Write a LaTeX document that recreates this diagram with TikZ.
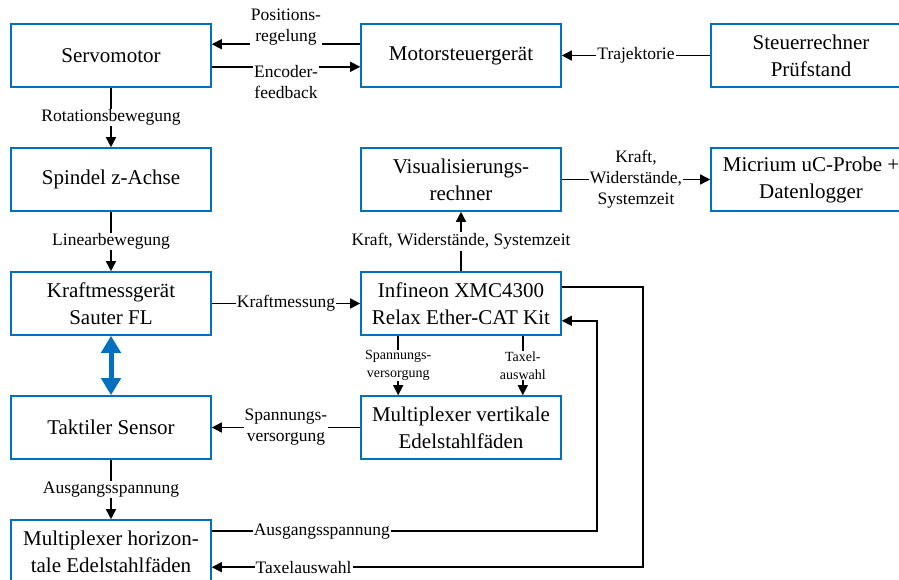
\documentclass[tikz,border=0pt]{standalone}
\usepackage{fontspec}
\setmainfont{Liberation Serif}
\usetikzlibrary{arrows.meta,positioning}
\definecolor{boxblue}{RGB}{0,112,192}
\begin{document}
\begin{tikzpicture}[x=1pt,y=-1pt,node distance=59.4pt and 148.4pt,box/.style={draw=boxblue,line width=1.6pt,fill=white,align=center,minimum width=200pt,minimum height=63pt,inner sep=2pt,font=\fontsize{21}{27}\selectfont},lbl/.style={fill=white,inner sep=1pt,align=center,font=\fontsize{17.5}{21}\selectfont},slbl/.style={lbl,font=\fontsize{14}{17.5}\selectfont},arr/.style={-{Triangle[length=10pt,width=10pt]},line width=1.5pt},bigarr/.style={{Triangle[length=17pt,width=19pt]}-{Triangle[length=17pt,width=19pt]},line width=5pt,draw=boxblue}]
\useasboundingbox (0,0) rectangle (899,579);
\clip (0,0) rectangle (899,579);
\node[box,anchor=north west] (servo) at (10.2,23.2) {Servomotor};
\node[box,right=of servo] (motor) {Motorsteuergerät};
\node[box,right=of motor] (steuer) {Steuerrechner\\Prüfstand};
\node[box,below=of servo] (spindel) {Spindel z-Achse};
\node[box,below=of motor] (vis) {Visualisierungs-\\rechner};
\node[box,right=of vis] (mic) {Micrium uC-Probe +\\Datenlogger};
\node[box,below=of spindel] (kraft) {Kraftmessgerät\\Sauter FL};
\node[box,below=of vis] (xmc) {Infineon XMC4300\\Relax Ether-CAT Kit};
\node[box,below=of kraft] (sensor) {Taktiler Sensor};
\node[box,below=of xmc] (muxv) {Multiplexer vertikale\\Edelstahlfäden};
\node[box,below=of sensor] (muxh) {Multiplexer horizon-\\tale Edelstahlfäden};
\draw[arr]([yshift=-21pt]motor.north west)--node[lbl,above=-3pt]{Positions-\\regelung}([yshift=-21pt]servo.north east);
\draw[arr]([yshift=21pt]servo.south east)--node[lbl,below=-3pt]{Encoder-\\feedback}([yshift=21pt]motor.south west);
\draw[arr](steuer)--node[lbl]{Trajektorie}(motor);
\draw[arr](servo)--node[lbl]{Rotationsbewegung}(spindel);\draw[arr](spindel)--node[lbl]{Linearbewegung}(kraft);
\draw[arr](kraft)--node[lbl]{Kraftmessung}(xmc);\draw[arr](xmc)--node[lbl]{Kraft, Widerstände, Systemzeit}(vis);
\draw[arr](vis)--node[lbl]{Kraft,\\Widerstände,\\Systemzeit}(mic);
\draw[arr]([xshift=38pt]xmc.south west)--node[slbl]{Spannungs-\\versorgung}([xshift=38pt]muxv.north west);
\draw[arr]([xshift=-39pt]xmc.south east)--node[slbl]{Taxel-\\auswahl}([xshift=-39pt]muxv.north east);
\draw[arr](muxv)--node[lbl]{Spannungs-\\versorgung}(sensor);\draw[arr](sensor)--node[lbl]{Ausgangsspannung}(muxh);
\draw[bigarr](kraft)--(sensor);
% Rueckfuehrung ueber die rechte Seite
\draw[arr]([yshift=-12pt]muxh.north east)--node[lbl,pos=0.286]{Ausgangsspannung}++(385,0)|-([yshift=15pt]xmc.south east);
\draw[arr]([yshift=-16pt]xmc.north east)-|++(81,280)--node[lbl,pos=0.787]{Taxelauswahl}([yshift=-48pt]muxh.north east);
\end{tikzpicture}
\end{document}
